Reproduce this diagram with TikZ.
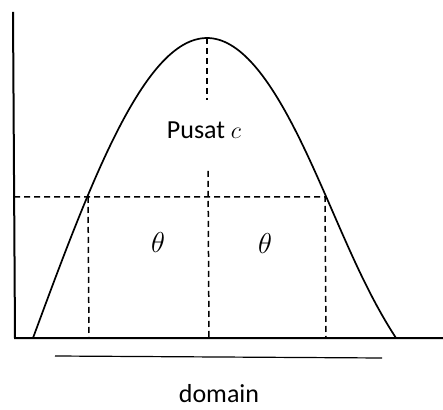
\documentclass[tikz,border=0pt]{standalone}
\usepackage{fontspec}
\setmainfont{Carlito}
\begin{document}
\begin{tikzpicture}[x=0.5pt, y=-0.5pt,
    axisline/.style={line width=1pt},
    guide/.style={line width=0.75pt, dash pattern=on 3pt off 2pt},
    lbl/.style={font=\fontsize{13}{15}\selectfont}]
    \useasboundingbox (0,0) rectangle (443,410);
    % sumbu
    \coordinate (O) at (15,338);
    \coordinate (ytop) at (13,12);
    \coordinate (xend) at (443,338);
    \draw[axisline] (ytop) -- (O) -- (xend);
    % kurva keanggotaan
    \coordinate (puncak) at (207,38);
    \coordinate (kiri) at (88,197);
    \coordinate (kanan) at (325,197);
    \coordinate (hkiri) at (14,197);
    \draw[line width=0.85pt] plot[domain=1:0, samples=60] ({207-174*\x}, {338-300*cos(90*\x)})
        -- plot[domain=0:1, samples=60] ({207+172*\x+17*\x^8}, {338-300*cos(90*\x)});
    % garis bantu
    \draw[guide] (hkiri) -- (kanan) -- (326,338);
    \draw[guide] (kiri) -- (89,338);
    \draw[guide] (puncak) -- (207,100);
    \draw[guide] (208,171) -- (209,338);
    \node[lbl] (pusat) at (204,130) {Pusat $c$};
    \node[font=\fontsize{14}{16}\selectfont] (tkiri) at (158,243) {$\theta$};
    \node[font=\fontsize{14}{16}\selectfont] (tkanan) at (265,244) {$\theta$};
    % domain
    \coordinate (da) at (55,356);
    \coordinate (db) at (382,358);
    \draw[line width=0.6pt] (da) -- (db);
    \node[lbl] (dom) at (219,394) {domain};
\end{tikzpicture}
\end{document}
